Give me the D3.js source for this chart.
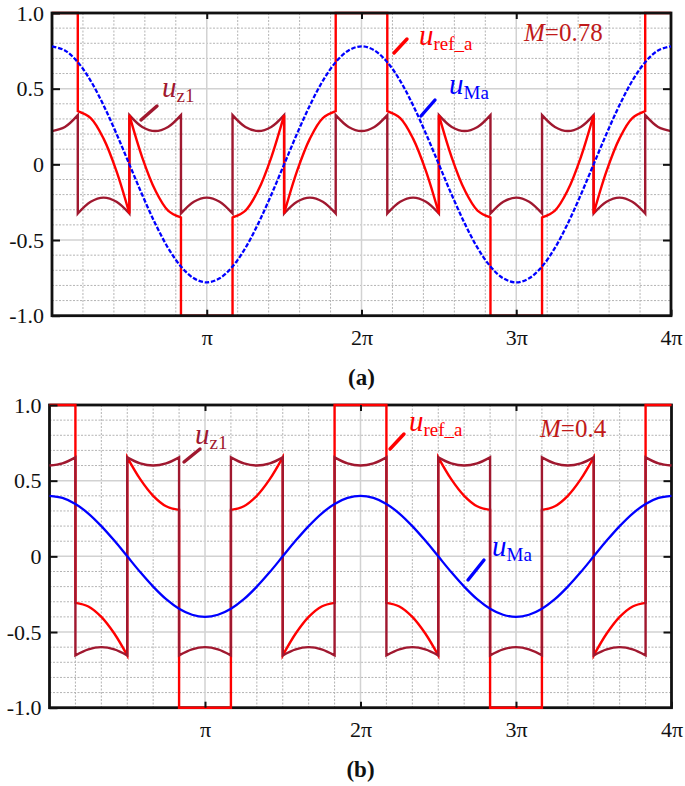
<!DOCTYPE html>
<html>
<head>
<meta charset="utf-8">
<script src="https://cdn.jsdelivr.net/npm/d3@7"></script>
<style>
  html, body { margin: 0; padding: 0; background: #ffffff; }
  svg { display: block; }
  svg text { font-family: "Liberation Serif", "DejaVu Serif", serif; }
</style>
</head>
<body>
<script>
// ---------------- DATA ----------------
// x positions in degrees of electrical angle (0 .. 4π = 720°), sampled every 15°
const xSamples = d3.range(0, 721, 15);
const xTickValues = [180, 360, 540, 720];
const xTickLabels = ["π", "2π", "3π", "4π"];
const yTickValues = [-1, -0.5, 0, 0.5, 1];
const yTickLabels = ["-1.0", "-0.5", "0", "0.5", "1.0"];

// modulation wave u_Ma, panel (a) M=0.78
const uMaA = [0.780, 0.753, 0.675, 0.552, 0.390, 0.202, 0.000, -0.202, -0.390, -0.552, -0.675, -0.753,
              -0.780, -0.753, -0.675, -0.552, -0.390, -0.202, 0.000, 0.202, 0.390, 0.552, 0.675, 0.753,
              0.780, 0.753, 0.675, 0.552, 0.390, 0.202, 0.000, -0.202, -0.390, -0.552, -0.675, -0.753,
              -0.780, -0.753, -0.675, -0.552, -0.390, -0.202, 0.000, 0.202, 0.390, 0.552, 0.675, 0.753, 0.780];
// modulation wave u_Ma, panel (b) M=0.4
const uMaB = [0.400, 0.386, 0.346, 0.283, 0.200, 0.104, 0.000, -0.104, -0.200, -0.283, -0.346, -0.386,
              -0.400, -0.386, -0.346, -0.283, -0.200, -0.104, 0.000, 0.104, 0.200, 0.283, 0.346, 0.386,
              0.400, 0.386, 0.346, 0.283, 0.200, 0.104, 0.000, -0.104, -0.200, -0.283, -0.346, -0.386,
              -0.400, -0.386, -0.346, -0.283, -0.200, -0.104, 0.000, 0.104, 0.200, 0.283, 0.346, 0.386, 0.400];

// 60° segments (edges in degrees); values inside each segment sampled every 15°
const segEdges = [0, 30, 90, 150, 210, 270, 330, 390, 450, 510, 570, 630, 690, 720];

const uZ1A = [
  [0.220, 0.247, 0.325],
  [-0.325, -0.247, -0.220, -0.247, -0.325],
  [0.325, 0.247, 0.220, 0.247, 0.325],
  [-0.325, -0.247, -0.220, -0.247, -0.325],
  [0.325, 0.247, 0.220, 0.247, 0.325],
  [-0.325, -0.247, -0.220, -0.247, -0.325],
  [0.325, 0.247, 0.220, 0.247, 0.325],
  [-0.325, -0.247, -0.220, -0.247, -0.325],
  [0.325, 0.247, 0.220, 0.247, 0.325],
  [-0.325, -0.247, -0.220, -0.247, -0.325],
  [0.325, 0.247, 0.220, 0.247, 0.325],
  [-0.325, -0.247, -0.220, -0.247, -0.325],
  [0.325, 0.247, 0.220]
];
const uRefA = [
  [1, 1, 1],
  [0.351, 0.305, 0.170, -0.045, -0.325],
  [0.325, 0.045, -0.170, -0.305, -0.351],
  [-1, -1, -1, -1, -1],
  [-0.351, -0.305, -0.170, 0.045, 0.325],
  [-0.325, -0.045, 0.170, 0.305, 0.351],
  [1, 1, 1, 1, 1],
  [0.351, 0.305, 0.170, -0.045, -0.325],
  [0.325, 0.045, -0.170, -0.305, -0.351],
  [-1, -1, -1, -1, -1],
  [-0.351, -0.305, -0.170, 0.045, 0.325],
  [-0.325, -0.045, 0.170, 0.305, 0.351],
  [1, 1, 1]
];

const uZ1B = [
  [0.600, 0.614, 0.654],
  [-0.654, -0.614, -0.600, -0.614, -0.654],
  [0.654, 0.614, 0.600, 0.614, 0.654],
  [-0.654, -0.614, -0.600, -0.614, -0.654],
  [0.654, 0.614, 0.600, 0.614, 0.654],
  [-0.654, -0.614, -0.600, -0.614, -0.654],
  [0.654, 0.614, 0.600, 0.614, 0.654],
  [-0.654, -0.614, -0.600, -0.614, -0.654],
  [0.654, 0.614, 0.600, 0.614, 0.654],
  [-0.654, -0.614, -0.600, -0.614, -0.654],
  [0.654, 0.614, 0.600, 0.614, 0.654],
  [-0.654, -0.614, -0.600, -0.614, -0.654],
  [0.654, 0.614, 0.600]
];
const uRefB = [
  [1, 1, 1],
  [-0.307, -0.331, -0.400, -0.510, -0.654],
  [0.654, 0.510, 0.400, 0.331, 0.307],
  [-1, -1, -1, -1, -1],
  [0.307, 0.331, 0.400, 0.510, 0.654],
  [-0.654, -0.510, -0.400, -0.331, -0.307],
  [1, 1, 1, 1, 1],
  [-0.307, -0.331, -0.400, -0.510, -0.654],
  [0.654, 0.510, 0.400, 0.331, 0.307],
  [-1, -1, -1, -1, -1],
  [0.307, 0.331, 0.400, 0.510, 0.654],
  [-0.654, -0.510, -0.400, -0.331, -0.307],
  [1, 1, 1]
];

// ---------------- STYLE ----------------
const C_RED = "#ff0000";
const C_DARK = "#a0182f";
const C_BLUE = "#0000ff";
const C_MTXT = "#c01a1a";
const SERIF = "Liberation Serif, DejaVu Serif, serif";

const svg = d3.select("body").append("svg").attr("width", 685).attr("height", 786);

function segPoints(segVals) {
  return segVals.map((vals, s) => vals.map((v, i) => [segEdges[s] + i * 15, v]));
}

function drawPanel(cfg) {
  const x = d3.scaleLinear().domain([0, 720]).range([cfg.x0, cfg.x1]);
  const y = d3.scaleLinear().domain([-1, 1]).range([cfg.y1, cfg.y0]);
  const g = svg.append("g");

  // grid
  const grid = g.append("g");
  const vMinor = d3.range(cfg.gridDeg, 720, cfg.gridDeg).filter(d => Math.abs(d % 180) > 1e-6);
  grid.selectAll(".vmin").data(vMinor).join("line")
    .attr("x1", d => x(d)).attr("x2", d => x(d)).attr("y1", y(1)).attr("y2", y(-1))
    .attr("stroke", "#b4b4b4").attr("stroke-width", 1).attr("stroke-dasharray", "2,1.5");
  const hVals = d3.range(-9, 10).map(k => k / 10);
  grid.selectAll(".hmin").data(hVals.filter(v => Math.abs(v * 2 - Math.round(v * 2)) > 1e-6)).join("line")
    .attr("x1", x(0)).attr("x2", x(720)).attr("y1", d => y(d)).attr("y2", d => y(d))
    .attr("stroke", "#b4b4b4").attr("stroke-width", 1).attr("stroke-dasharray", "2,1.5");
  grid.selectAll(".hmaj").data([-0.5, 0, 0.5]).join("line")
    .attr("x1", x(0)).attr("x2", x(720)).attr("y1", d => y(d)).attr("y2", d => y(d))
    .attr("stroke", "#d2d2d2").attr("stroke-width", 1.5);
  grid.selectAll(".vmaj").data([180, 360, 540]).join("line")
    .attr("x1", d => x(d)).attr("x2", d => x(d)).attr("y1", y(1)).attr("y2", y(-1))
    .attr("stroke", "#d2d2d2").attr("stroke-width", 1.5);

  const segLine = d3.line().x(d => x(d[0])).y(d => y(d[1])).curve(d3.curveCatmullRom.alpha(0.5));
  function segPath(segVals) {
    return segPoints(segVals).map((pts, i) => {
      const p = segLine(pts);
      return i === 0 ? p : "L" + p.slice(1);
    }).join("");
  }

  const drawZ = () => g.append("path").attr("d", segPath(cfg.uz)).attr("fill", "none")
    .attr("stroke", C_DARK).attr("stroke-width", 2.4).attr("stroke-linejoin", "miter");
  const drawRef = () => g.append("path").attr("d", segPath(cfg.uref)).attr("fill", "none")
    .attr("stroke", C_RED).attr("stroke-width", 2.4).attr("stroke-linejoin", "miter");
  const drawFrame = () => {
    g.append("rect").attr("x", cfg.x0).attr("y", cfg.y0)
      .attr("width", cfg.x1 - cfg.x0).attr("height", cfg.y1 - cfg.y0)
      .attr("fill", "none").attr("stroke", "#111").attr("stroke-width", 2.8);
  };

  if (cfg.redOnTop) { drawZ(); drawRef(); drawFrame(); }
  else { drawFrame(); drawRef(); drawZ(); }

  // blue modulation wave
  const blueLine = d3.line().x((d, i) => x(xSamples[i])).y(d => y(d)).curve(d3.curveCatmullRom.alpha(0.5));
  const bp = g.append("path").attr("d", blueLine(cfg.uma)).attr("fill", "none")
    .attr("stroke", C_BLUE).attr("stroke-width", 2.3);
  if (cfg.dashed) bp.attr("stroke-dasharray", "4.5,1.8");

  // axes (inward ticks)
  const yAx = g.append("g").attr("transform", `translate(${cfg.x0},0)`)
    .call(d3.axisLeft(y).tickValues(yTickValues).tickFormat((d, i) => yTickLabels[i])
      .tickSizeInner(-8).tickSizeOuter(0).tickPadding(8));
  yAx.attr("font-family", null).attr("font-size", null);
  yAx.select(".domain").remove();
  yAx.selectAll("line").attr("stroke", "#111").attr("stroke-width", 2);
  yAx.selectAll("text").style("font-family", SERIF).style("font-size", "22px").attr("fill", "#111");

  const yAxR = g.append("g").attr("transform", `translate(${cfg.x1},0)`)
    .call(d3.axisRight(y).tickValues([-0.5, 0, 0.5]).tickFormat("").tickSizeInner(-8).tickSizeOuter(0));
  yAxR.select(".domain").remove();
  yAxR.selectAll("line").attr("stroke", "#111").attr("stroke-width", 2);

  const xAx = g.append("g").attr("transform", `translate(0,${cfg.y1})`)
    .call(d3.axisBottom(x).tickValues(xTickValues).tickFormat((d, i) => xTickLabels[i])
      .tickSizeInner(-6).tickSizeOuter(0).tickPadding(14));
  xAx.attr("font-family", null).attr("font-size", null);
  xAx.select(".domain").remove();
  xAx.selectAll("line").attr("stroke", "#111").attr("stroke-width", 2);
  xAx.selectAll("text").style("font-family", SERIF).style("font-size", "22px").attr("fill", "#111");

  const xAxT = g.append("g").attr("transform", `translate(0,${cfg.y0})`)
    .call(d3.axisTop(x).tickValues([180, 360, 540]).tickFormat("").tickSizeInner(-6).tickSizeOuter(0));
  xAxT.select(".domain").remove();
  xAxT.selectAll("line").attr("stroke", "#111").attr("stroke-width", 2);

  // caption
  g.append("text").attr("x", (cfg.x0 + cfg.x1) / 2).attr("y", cfg.capY)
    .attr("text-anchor", "middle").style("font-family", SERIF).style("font-size", "23px")
    .attr("font-weight", "bold").attr("fill", "#111").text(cfg.caption);

  // annotations
  function label(a, color) {
    const t = g.append("text").attr("x", a.tx).attr("y", a.ty)
      .style("font-family", SERIF).attr("fill", color);
    t.append("tspan").attr("font-style", "italic").style("font-size", "29px").text("u");
    t.append("tspan").style("font-size", "19px").attr("dy", 5).text(a.sub);
    g.append("line").attr("x1", a.l[0]).attr("y1", a.l[1]).attr("x2", a.l[2]).attr("y2", a.l[3])
      .attr("stroke", color).attr("stroke-width", 3.4).attr("stroke-linecap", "round");
  }
  label(cfg.lz, C_DARK);
  label(cfg.lref, C_RED);
  label(cfg.lma, C_BLUE);

  const mt = g.append("text").attr("x", cfg.mPos[0]).attr("y", cfg.mPos[1])
    .style("font-family", SERIF).style("font-size", "25px").attr("fill", C_MTXT);
  mt.append("tspan").attr("font-style", "italic").text("M");
  mt.append("tspan").text("=" + cfg.mText);
}

drawPanel({
  x0: 52, x1: 671, y0: 13, y1: 315.7, gridDeg: 36,
  uz: uZ1A, uref: uRefA, uma: uMaA, dashed: true, redOnTop: true,
  caption: "(a)", capY: 385,
  lz:   { tx: 162, ty: 97, sub: "z1",    l: [157, 106, 141, 120] },
  lref: { tx: 419, ty: 45, sub: "ref_a", l: [407, 39, 394, 53] },
  lma:  { tx: 449, ty: 94, sub: "Ma",    l: [435, 100, 421, 116] },
  mPos: [524, 41], mText: "0.78"
});

drawPanel({
  x0: 49.5, x1: 671.5, y0: 405, y1: 707.7, gridDeg: 30,
  uz: uZ1B, uref: uRefB, uma: uMaB, dashed: false, redOnTop: false,
  caption: "(b)", capY: 777,
  lz:   { tx: 195, ty: 444, sub: "z1",    l: [200, 449, 184, 462] },
  lref: { tx: 409, ty: 431, sub: "ref_a", l: [404, 434, 390, 449] },
  lma:  { tx: 492, ty: 556, sub: "Ma",    l: [484, 560, 468, 580] },
  mPos: [540, 437], mText: "0.4"
});
</script>
</body>
</html>
